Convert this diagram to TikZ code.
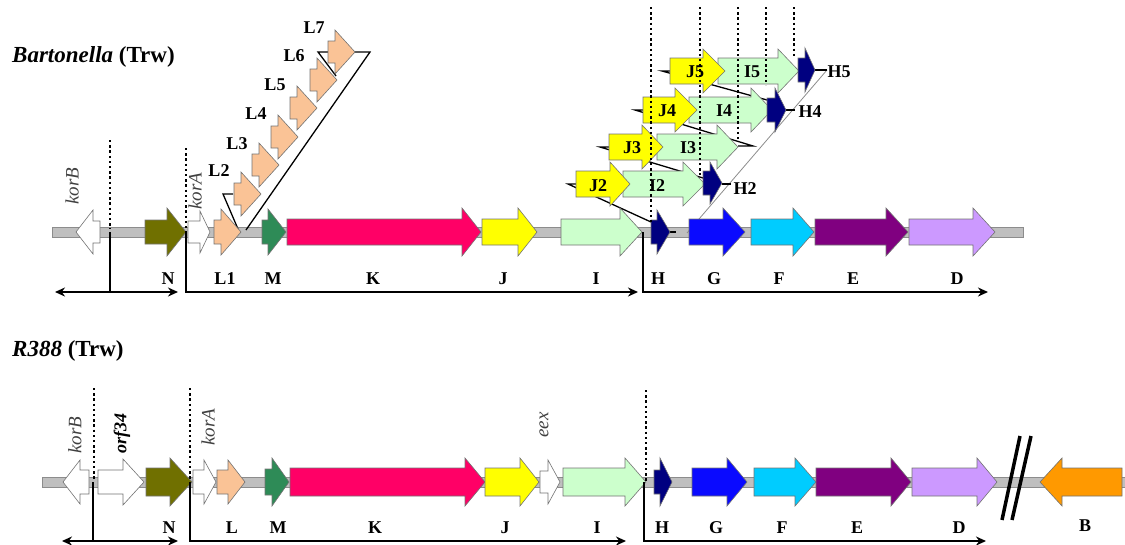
\documentclass[tikz,border=0pt]{standalone}
\usepackage{fontspec}
\setmainfont{Liberation Serif}
\usetikzlibrary{arrows.meta}

\definecolor{cN}{RGB}{112,112,0}
\definecolor{cL}{RGB}{250,195,150}
\definecolor{cM}{RGB}{46,139,87}
\definecolor{cK}{RGB}{255,0,102}
\definecolor{cJ}{RGB}{255,255,0}
\definecolor{cI}{RGB}{204,255,204}
\definecolor{cH}{RGB}{0,0,128}
\definecolor{cG}{RGB}{10,10,255}
\definecolor{cF}{RGB}{0,204,255}
\definecolor{cE}{RGB}{128,0,128}
\definecolor{cD}{RGB}{204,153,255}
\definecolor{cB}{RGB}{255,153,0}

% gene arrow: style, back x, head-base x, tip x, centre y, body half-height, head half-height
\newcommand\genearrow[7]{%
  \filldraw[gene,#1] (#2,#5-#6) -- (#3,#5-#6) -- (#3,#5-#7) -- (#4,#5)
    -- (#3,#5+#7) -- (#3,#5+#6) -- (#2,#5+#6) -- cycle;}

\begin{document}
\begin{tikzpicture}[x=1pt,y=-1pt,
  gene/.style={draw=black!55,line width=0.6pt},
  bar/.style={fill=black!25,draw=black!45,line width=0.6pt},
  lab/.style={font=\bfseries\fontsize{18}{18}\selectfont,inner sep=0pt},
  gname/.style={font=\itshape\fontsize{19}{19}\selectfont,text=black!75,rotate=90,inner sep=0pt},
  title/.style={font=\bfseries\fontsize{23}{23}\selectfont,inner sep=0pt,anchor=west},
  bracket/.style={line width=2.2pt},
  tipped/.style={-{Stealth[length=10pt,width=9pt]}},
  twotipped/.style={{Stealth[length=10pt,width=9pt]}-{Stealth[length=10pt,width=9pt]}},
  dots/.style={line width=2.6pt,dash pattern=on 2.4pt off 2.8pt},
  wedge/.style={line width=1.3pt,black},
  cone/.style={line width=0.8pt,black!45},
  breakmark/.style={line width=3.5pt,black}]
\useasboundingbox (0,0) rectangle (1125,544);

% ---------------- Bartonella (Trw) ----------------
\node[title] (titleA) at (12,57) {\textit{Bartonella} (Trw)};
\draw[bar] (52,227) rectangle (1023,237);

% fan-out lines behind the tandem copies
\draw[wedge] (233,194) -- (223,194) -- (238,229);
\draw[wedge] (246,230) -- (370,52) -- (318,52) -- (336,76);
\draw[cone] (687,233) -- (827,70);
\draw[wedge] (576,184) -- (568,184) -- (651,222);
\draw[wedge] (609,147) -- (600,147) -- (703,178);
\draw[wedge] (643,110) -- (635,110) -- (753,146) -- (738,146);
\draw[wedge] (670,71) -- (662,71) -- (767,100);
\draw[wedge] (669,232) -- (676,232);
\draw[wedge] (722,184) -- (731,184);
\draw[wedge] (786,110) -- (795,110);
\draw[wedge] (815,70) -- (827,70);

% main operon
\genearrow{fill=white}{100}{93}{76}{232}{11}{22}
\genearrow{fill=cN}{145}{167}{186}{232}{12}{24}
\genearrow{fill=white}{188}{200}{210}{232}{11}{21}
\genearrow{fill=cL}{214}{221}{241}{232}{12}{23}
\genearrow{fill=cM}{262}{268}{286}{232}{12}{23}
\genearrow{fill=cK}{287}{462}{481}{232}{13}{24}
\genearrow{fill=cJ}{482}{518}{537}{232}{13}{24}
\genearrow{fill=cI}{561}{620}{642}{232}{13}{24}
\genearrow{fill=cH}{651}{657}{670}{232}{12}{22}
\genearrow{fill=cG}{689}{723}{745}{232}{13}{24}
\genearrow{fill=cF}{751}{793}{814}{232}{13}{24}
\genearrow{fill=cE}{815}{886}{908}{232}{13}{24}
\genearrow{fill=cD}{909}{973}{995}{232}{13}{24}

% trwL tandem copies
\genearrow{fill=cL}{328}{335}{355}{52}{11}{22}
\genearrow{fill=cL}{310}{317}{337}{80}{11}{22}
\genearrow{fill=cL}{290}{297}{317}{108}{11}{22}
\genearrow{fill=cL}{271}{278}{298}{137}{11}{22}
\genearrow{fill=cL}{252}{259}{279}{165}{11}{22}
\genearrow{fill=cL}{234}{241}{261}{194}{11}{22}

% trwJ-I-H tandem copies
\genearrow{fill=cI}{718}{778}{799}{71}{13}{22}
\genearrow{fill=cH}{798}{805}{815}{70}{12}{22}
\genearrow{fill=cJ}{670}{703}{725}{71}{13}{22}
\genearrow{fill=cI}{689}{751}{772}{110}{13}{22}
\genearrow{fill=cH}{767}{775}{786}{110}{12}{22}
\genearrow{fill=cJ}{643}{675}{697}{110}{13}{22}
\genearrow{fill=cI}{657}{717}{738}{147}{13}{22}
\genearrow{fill=cJ}{609}{642}{663}{147}{13}{22}
\genearrow{fill=cI}{623}{683}{705}{184}{13}{22}
\genearrow{fill=cH}{703}{710}{722}{183}{12}{21}
\genearrow{fill=cJ}{576}{610}{630}{184}{13}{22}

% boundaries
\draw[dots] (110,140) -- (110,229);
\draw[dots] (186,148) -- (186,232);
\draw[dots] (651,7) -- (651,222);
\draw[dots] (700,7) -- (700,175);
\draw[dots] (738,7) -- (738,140);
\draw[dots] (766,7) -- (766,85);
\draw[dots] (794,7) -- (794,57);

% transcription units
\draw[bracket] (110,232) -- (110,292);
\draw[bracket,twotipped] (55,292) -- (178,292);
\draw[bracket,tipped] (186,232) -- (186,292) -- (638,292);
\draw[bracket,tipped] (643,232) -- (643,292) -- (988,292);

% gene names
\node[gname] (korBa) at (72,186) {korB};
\node[gname] (korAa) at (195,191) {korA};
\node[lab] (Na) at (168,279) {N};
\node[lab] (L1a) at (225,279) {L1};
\node[lab] (Ma) at (273,279) {M};
\node[lab] (Ka) at (373,279) {K};
\node[lab] (Ja) at (503,279) {J};
\node[lab] (Ia) at (596,279) {I};
\node[lab] (Ha) at (658,279) {H};
\node[lab] (Ga) at (714,279) {G};
\node[lab] (Fa) at (779,279) {F};
\node[lab] (Ea) at (853,279) {E};
\node[lab] (Da) at (957,279) {D};
\node[lab] (L2a) at (219,171) {L2};
\node[lab] (L3a) at (237,144) {L3};
\node[lab] (L4a) at (256,114) {L4};
\node[lab] (L5a) at (275,85) {L5};
\node[lab] (L6a) at (294,56) {L6};
\node[lab] (L7a) at (314,28) {L7};
\node[lab] (J2a) at (598,186) {J2};
\node[lab] (I2a) at (657,186) {I2};
\node[lab] (H2a) at (745,189) {H2};
\node[lab] (J3a) at (632,148) {J3};
\node[lab] (I3a) at (688,148) {I3};
\node[lab] (J4a) at (667,111) {J4};
\node[lab] (I4a) at (724,111) {I4};
\node[lab] (H4a) at (810,112) {H4};
\node[lab] (J5a) at (695,72) {J5};
\node[lab] (I5a) at (752,72) {I5};
\node[lab] (H5a) at (839,72) {H5};

% ---------------- R388 (Trw) ----------------
\node[title] (titleB) at (12,351) {\textit{R388} (Trw)};
\draw[bar] (42,477) rectangle (1125,487);

\genearrow{fill=white}{89}{80}{63}{482}{12}{22}
\genearrow{fill=white}{98}{123}{144}{482}{12}{23}
\genearrow{fill=cN}{146}{170}{192}{482}{14}{24}
\genearrow{fill=white}{193}{204}{216}{482}{12}{22}
\genearrow{fill=cL}{217}{228}{245}{482}{12}{22}
\genearrow{fill=cM}{265}{272}{289}{482}{13}{24}
\genearrow{fill=cK}{290}{465}{485}{482}{14}{24}
\genearrow{fill=cJ}{485}{520}{539}{482}{14}{24}
\genearrow{fill=white}{540}{548}{560}{482}{11}{22}
\genearrow{fill=cI}{563}{625}{646}{482}{14}{24}
\genearrow{fill=cH}{654}{660}{672}{482}{12}{24}
\genearrow{fill=cG}{692}{727}{747}{482}{14}{24}
\genearrow{fill=cF}{754}{795}{816}{482}{14}{24}
\genearrow{fill=cE}{816}{891}{911}{482}{14}{24}
\genearrow{fill=cD}{912}{977}{997}{482}{14}{24}
\genearrow{fill=cB}{1122}{1062}{1040}{482}{14}{24}

% break in the sequence
\draw[breakmark] (1002,520) -- (1020,436);
\draw[breakmark] (1012,520) -- (1031,436);

\draw[dots] (94,388) -- (94,479);
\draw[dots] (190,388) -- (190,482);
\draw[dots] (646,390) -- (646,482);

\draw[bracket] (93,482) -- (93,541);
\draw[bracket,twotipped] (62,541) -- (178,541);
\draw[bracket,tipped] (190,482) -- (190,541) -- (626,541);
\draw[bracket,tipped] (644,482) -- (644,541) -- (986,541);

\node[gname] (korBb) at (75,435) {korB};
\node[gname,font=\bfseries\itshape\fontsize{18}{18}\selectfont,text=black] (orfb) at (122,433) {orf34};
\node[gname] (korAb) at (208,427) {korA};
\node[gname] (eexb) at (544,425) {eex};
\node[lab] (Nb) at (169,528) {N};
\node[lab] (Lb) at (232,528) {L};
\node[lab] (Mb) at (278,528) {M};
\node[lab] (Kb) at (375,528) {K};
\node[lab] (Jb) at (505,528) {J};
\node[lab] (Ib) at (597,528) {I};
\node[lab] (Hb) at (662,528) {H};
\node[lab] (Gb) at (716,528) {G};
\node[lab] (Fb) at (782,528) {F};
\node[lab] (Eb) at (857,528) {E};
\node[lab] (Db) at (959,528) {D};
\node[lab] (Bb) at (1085,526) {B};
\end{tikzpicture}
\end{document}
